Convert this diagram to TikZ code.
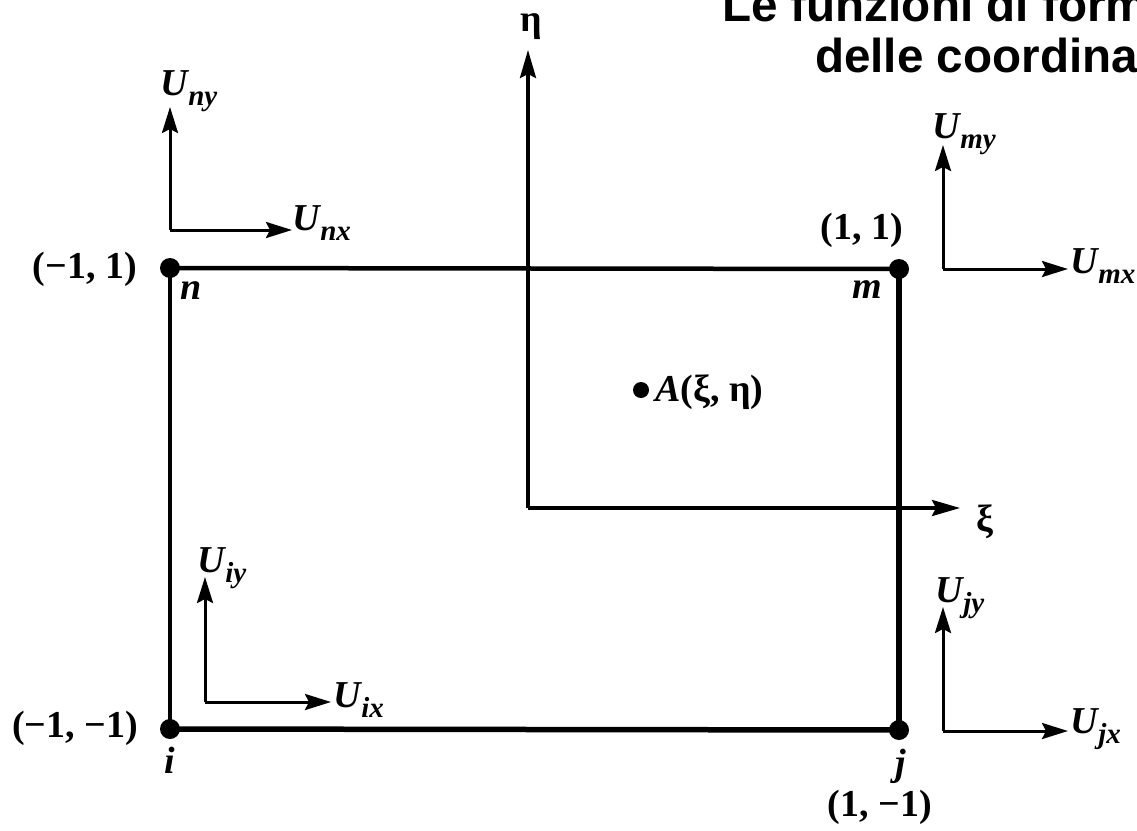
\documentclass[tikz,border=0pt]{standalone}
\usepackage{fontspec}
\setmainfont{Liberation Serif}
\newfontfamily\titlefont{Liberation Sans}
\usetikzlibrary{arrows.meta}
\newcommand\Ulab[1]{\textit{U}\kern-1pt\raisebox{-10pt}{\fontsize{29}{29}\selectfont\textit{#1}}}
\tikzset{
  lbl/.style={font=\fontsize{38}{38}\selectfont\bfseries, inner sep=0pt},
  ulbl/.style={font=\fontsize{38}{38}\selectfont\bfseries, inner sep=0pt, anchor=base west},
  dot/.style={circle, fill=black, inner sep=0pt, minimum size=20pt},
  edge/.style={line width=4.5pt},
  axis/.style={line width=3.5pt, -{Stealth[length=28pt,width=16pt,inset=4pt]}},
  larrow/.style={line width=3pt, -{Stealth[length=26pt,width=16pt,inset=4pt]}},
  ttl/.style={font=\titlefont\bfseries\fontsize{47.6}{47.6}\selectfont, inner sep=0pt, anchor=base west}
}
\begin{document}
\begin{tikzpicture}[x=1pt,y=-1pt]
\useasboundingbox (0,0) rectangle (1137,830);
\clip (0,0) rectangle (1137,830);
\fill[white] (0,0) rectangle (1137,830);
% title
\node[ttl] (t1) at (722,21) {Le funzioni di forma in termini};
\node[ttl] (t2) at (815,72) {delle coordinate naturali};
% element
\node[dot] (n) at (170,268) {};
\node[dot] (m) at (899,269) {};
\node[dot] (i) at (170,729) {};
\node[dot] (j) at (899,730) {};
\draw[edge] (n.center) -- (m.center);
\draw[edge] (n.center) -- (i.center);
\draw[line width=5.5pt] (i.center) -- (j.center);
\draw[line width=6.5pt] (m.center) -- (j.center);
% natural axes
\coordinate (O) at (528,508);
\coordinate (etatip) at (528,50);
\coordinate (xitip) at (960,508);
\draw[axis] (O) -- (etatip);
\draw[axis] (O) -- (xitip);
\node[lbl] (eta) at (531,27) {η};
\node[lbl] (xi) at (985,522) {ξ};
% point A
\node[circle, fill=black, inner sep=0pt, minimum size=16pt] (A) at (641,390) {};
\node[lbl, anchor=base west] (Alab) at (655,401) {\textit{A}(ξ, η)};
% corner labels
\node[lbl, anchor=base east] (cn) at (137,278) {(−1, 1)};
\node[lbl, anchor=base] (ln) at (191,299) {\textit{n}};
\node[lbl, anchor=base east] (cm) at (903,239) {(1, 1)};
\node[lbl, anchor=base] (lm) at (867,298) {\textit{m}};
\node[lbl, anchor=base east] (ci) at (138,737) {(−1, −1)};
\node[lbl, anchor=base] (li) at (170,773) {\textit{i}};
\node[lbl, anchor=base] (lj) at (901,775) {\textit{j}};
\node[lbl, anchor=base east] (cj) at (932,816) {(1, −1)};
% nodal displacements n
\coordinate (nc) at (170,230);
\coordinate (nyt) at (170,107);
\coordinate (nxt) at (292,230);
\draw[larrow] (nc) -- (nyt);
\draw[larrow] (nc) -- (nxt);
\node[ulbl] (Uny) at (160,95) {\Ulab{ny}};
\node[ulbl] (Unx) at (292,230) {\Ulab{nx}};
% m
\coordinate (mc) at (943,269);
\coordinate (myt) at (943,145);
\coordinate (mxt) at (1068,269);
\draw[larrow] (mc) -- (myt);
\draw[larrow] (mc) -- (mxt);
\node[ulbl] (Umy) at (932,138) {\Ulab{my}};
\node[ulbl] (Umx) at (1070,273) {\Ulab{mx}};
% i
\coordinate (ic) at (205,702);
\coordinate (iyt) at (205,577);
\coordinate (ixt) at (331,702);
\draw[larrow] (ic) -- (iyt);
\draw[larrow] (ic) -- (ixt);
\node[ulbl] (Uiy) at (197,572) {\Ulab{iy}};
\node[ulbl] (Uix) at (333,707) {\Ulab{ix}};
% j
\coordinate (jc) at (943,731);
\coordinate (jyt) at (943,607);
\coordinate (jxt) at (1068,731);
\draw[larrow] (jc) -- (jyt);
\draw[larrow] (jc) -- (jxt);
\node[ulbl] (Ujy) at (935,602) {\Ulab{jy}};
\node[ulbl] (Ujx) at (1070,733) {\Ulab{jx}};
\end{tikzpicture}
\end{document}
